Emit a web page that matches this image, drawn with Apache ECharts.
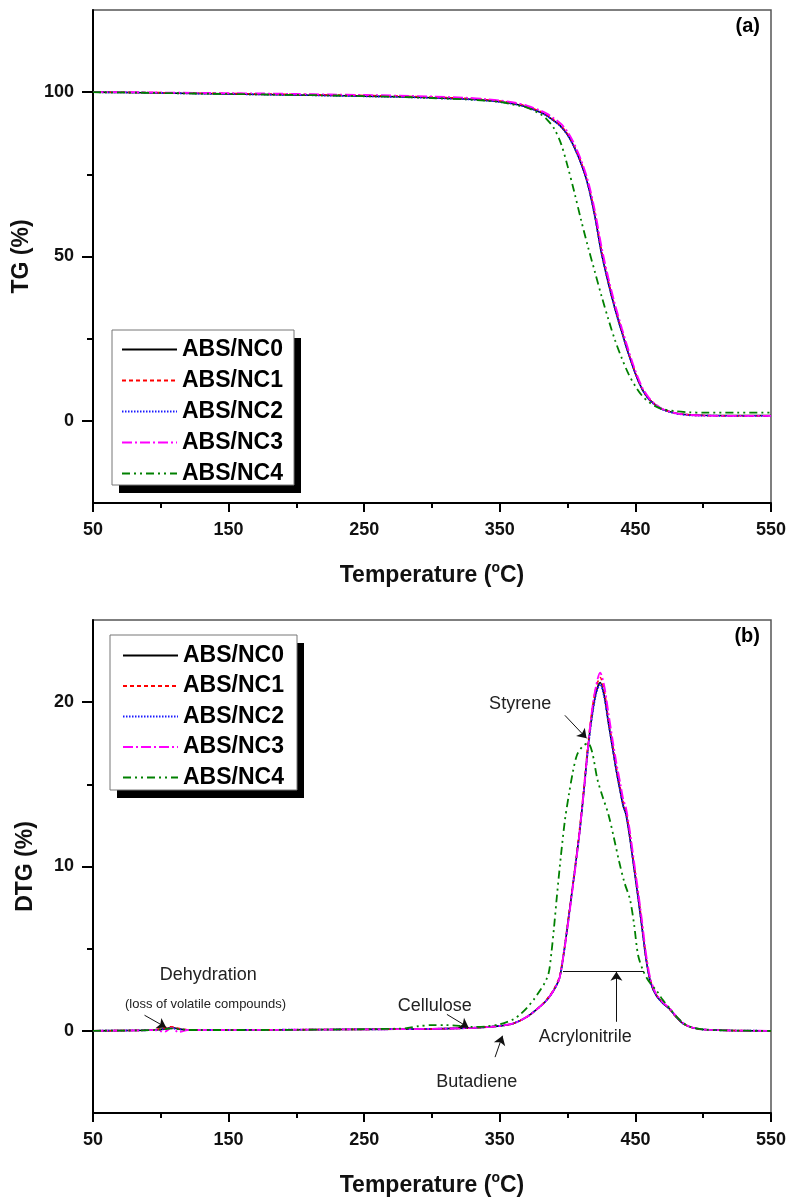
<!DOCTYPE html>
<html>
<head>
<meta charset="utf-8">
<script src="https://cdn.jsdelivr.net/npm/echarts@6/dist/echarts.min.js"></script>
<style>
  html, body { margin: 0; padding: 0; background: #ffffff; }
  #chart { width: 795px; height: 1197px; }
</style>
</head>
<body>
<div id="chart"></div>
<script>
// Sample names
const seriesNames = ['ABS/NC0', 'ABS/NC1', 'ABS/NC2', 'ABS/NC3', 'ABS/NC4'];

// Axis tick values
const xMajorTicks = [50, 150, 250, 350, 450, 550];
const xMinorTicks = [100, 200, 300, 400, 500];
const tgMajorTicks = [0, 50, 100];
const tgMinorTicks = [25, 75];
const dtgMajorTicks = [0, 10, 20];
const dtgMinorTicks = [5, 15];

// TG curves (% mass remaining) vs temperature (°C)
const tgTemps = [50, 75, 100, 125, 150, 175, 200, 225, 250, 275, 300, 325, 340, 350, 360, 370, 380, 385, 390, 395,
                 400, 405, 410, 415, 420, 425, 430, 435, 440, 445, 450, 455, 460, 465, 470, 480, 490, 500, 525, 550];
const tgNC0 = [100, 99.9, 99.75, 99.6, 99.45, 99.3, 99.15, 99.0, 98.8, 98.6, 98.3, 97.9, 97.5, 97.1, 96.5, 95.5, 93.9, 92.8, 91.3, 89.6,
               87.0, 83.2, 78.2, 71.8, 62.5, 51.0, 42.0, 34.0, 27.0, 20.3, 14.3, 9.6, 6.6, 4.8, 3.5, 2.3, 1.8, 1.7, 1.6, 1.6];
const tgNC1 = [100, 99.95, 99.85, 99.7, 99.6, 99.45, 99.3, 99.15, 99.0, 98.8, 98.5, 98.1, 97.7, 97.3, 96.7, 95.7, 94.1, 93.0, 91.5, 89.8,
               87.3, 83.5, 78.6, 72.3, 63.2, 51.8, 42.6, 34.5, 27.4, 20.6, 14.6, 9.8, 6.7, 4.8, 3.5, 2.3, 1.8, 1.6, 1.5, 1.5];
const tgNC2 = [100, 99.9, 99.75, 99.6, 99.45, 99.3, 99.15, 98.95, 98.75, 98.55, 98.25, 97.85, 97.45, 97.0, 96.4, 95.4, 93.8, 92.7, 91.2, 89.5,
               86.9, 83.1, 78.1, 71.7, 62.4, 51.0, 42.0, 34.0, 27.0, 20.3, 14.3, 9.6, 6.5, 4.7, 3.4, 2.2, 1.7, 1.6, 1.5, 1.5];
const tgNC3 = [100, 100.0, 99.9, 99.8, 99.7, 99.6, 99.45, 99.3, 99.15, 98.95, 98.7, 98.3, 97.9, 97.5, 96.9, 95.9, 94.4, 93.4, 92.0, 90.4,
               87.9, 84.2, 79.3, 73.1, 64.2, 53.0, 43.6, 35.4, 28.2, 21.4, 15.2, 10.2, 7.0, 5.0, 3.6, 2.3, 1.8, 1.6, 1.5, 1.5];
const tgNC4 = [100, 99.9, 99.75, 99.6, 99.45, 99.3, 99.15, 99.0, 98.8, 98.6, 98.2, 97.8, 97.4, 97.0, 96.2, 95.3, 93.3, 91.6, 89.0, 84.5,
               77.5, 69.5, 61.0, 53.0, 45.5, 38.0, 31.0, 24.5, 19.0, 14.2, 10.5, 7.6, 5.7, 4.4, 3.6, 2.9, 2.6, 2.5, 2.5, 2.5];

// DTG curves (%) vs temperature (°C)
const dtgTemps = [50, 75, 95, 103, 108, 113, 120, 150, 200, 250, 300, 330, 350, 360, 370, 380, 385, 390, 394, 397,
                  400, 403, 406, 409, 412, 415, 418, 421, 424, 427, 430, 433, 436, 439, 441, 443, 446, 449, 452, 455,
                  458, 461, 465, 470, 475, 480, 485, 490, 495, 500, 520, 550];
const dtgNC0 = [0.0, 0.02, 0.05, 0.12, 0.2, 0.12, 0.06, 0.05, 0.07, 0.09, 0.12, 0.18, 0.3, 0.45, 0.85, 1.5, 1.9, 2.5, 3.2, 4.6,
                6.4, 8.3, 10.2, 12.2, 14.6, 17.2, 19.2, 20.6, 21.2, 20.4, 18.8, 17.3, 15.8, 14.5, 13.7, 13.2, 11.7, 9.9, 8.1, 6.2,
                4.3, 3.0, 2.2, 1.7, 1.35, 0.85, 0.45, 0.25, 0.14, 0.08, 0.02, 0.0];
const dtgNC1 = [0.0, 0.02, 0.06, 0.18, 0.25, 0.15, 0.06, 0.05, 0.07, 0.09, 0.12, 0.18, 0.3, 0.45, 0.85, 1.5, 1.95, 2.55, 3.3, 4.7,
                6.5, 8.4, 10.3, 12.4, 14.8, 17.4, 19.5, 20.9, 21.5, 20.7, 19.0, 17.5, 16.0, 14.7, 13.9, 13.4, 11.9, 10.1, 8.3, 6.4,
                4.4, 3.1, 2.25, 1.75, 1.35, 0.85, 0.45, 0.25, 0.14, 0.08, 0.02, 0.0];
const dtgNC2 = [0.0, 0.02, 0.05, 0.1, 0.15, 0.1, 0.05, 0.05, 0.07, 0.09, 0.12, 0.18, 0.3, 0.45, 0.85, 1.5, 1.9, 2.5, 3.2, 4.6,
                6.4, 8.3, 10.2, 12.2, 14.6, 17.1, 19.1, 20.5, 21.1, 20.3, 18.8, 17.3, 15.8, 14.5, 13.7, 13.2, 11.7, 9.9, 8.1, 6.2,
                4.3, 3.0, 2.2, 1.7, 1.35, 0.85, 0.45, 0.25, 0.14, 0.08, 0.02, 0.0];
const dtgNC3 = [0.0, 0.02, 0.04, -0.05, 0.2, -0.08, 0.05, 0.05, 0.07, 0.09, 0.12, 0.18, 0.3, 0.45, 0.85, 1.5, 1.9, 2.5, 3.2, 4.6,
                6.3, 8.2, 10.1, 12.2, 14.6, 17.2, 19.5, 21.0, 21.8, 21.0, 19.4, 17.8, 16.3, 15.0, 14.1, 13.6, 12.1, 10.3, 8.5, 6.6,
                4.6, 3.2, 2.3, 1.75, 1.4, 0.9, 0.5, 0.25, 0.14, 0.08, 0.02, 0.0];

const dtgTempsNC4 = [50, 75, 95, 103, 108, 113, 120, 150, 200, 250, 280, 290, 300, 310, 320, 330, 340, 350, 360, 365,
                     370, 375, 380, 383, 386, 388, 390, 392, 395, 398, 401, 404, 407, 411, 415, 418, 422, 426, 430, 434,
                     438, 442, 446, 449, 452, 456, 460, 466, 470, 475, 480, 485, 490, 500, 520, 550];
const dtgNC4 = [0.0, 0.02, 0.05, 0.1, 0.15, 0.1, 0.05, 0.05, 0.06, 0.1, 0.15, 0.28, 0.35, 0.35, 0.3, 0.24, 0.27, 0.4, 0.7, 1.0,
                1.4, 1.9, 2.5, 2.9, 3.5, 4.7, 6.3, 8.1, 10.6, 12.8, 14.4, 15.8, 16.8, 17.3, 17.5, 17.0, 15.3, 14.2, 13.2, 11.8,
                10.3, 9.0, 8.0, 6.5, 4.6, 3.6, 3.0, 2.4, 1.9, 1.4, 0.9, 0.5, 0.25, 0.08, 0.02, 0.0];

const tgSets = [tgNC0, tgNC1, tgNC2, tgNC3, tgNC4];
const dtgSets = [[dtgTemps, dtgNC0], [dtgTemps, dtgNC1], [dtgTemps, dtgNC2], [dtgTemps, dtgNC3], [dtgTempsNC4, dtgNC4]];

// Decomposition-stage annotations on the DTG panel: [text, temperature, value, font size]
const stageLabels = [
  ['Dehydration', 135, 3.4, 18],
  ['(loss of volatile compounds)', 133, 1.6, 13],
  ['Cellulose', 302, 1.5, 18],
  ['Butadiene', 333, -3.1, 18],
  ['Acrylonitrile', 413, -0.35, 18],
  ['Styrene', 365, 19.9, 18]
];
// Arrows: [from T, from value, to T, to value]
const stageArrows = [
  [88, 0.95, 104, 0.2],
  [311, 1.0, 327, 0.2],
  [346.5, -1.6, 352, -0.3],
  [436, 0.55, 436, 3.6],
  [398, 19.2, 414, 17.8]
];
// Width bar across the main peak: [from T, to T, value]
const acrylBar = [396.6, 456.3, 3.6];

const FONT = 'Liberation Sans';
const lineStyles = [
  { color: '#000000', type: 'solid', width: 1.6 },
  { color: '#ff0000', type: [4, 3], width: 1.6 },
  { color: '#1a1aff', type: [1.5, 1.5], width: 1.8 },
  { color: '#ff00ff', type: [10, 3, 2, 3], width: 1.8 },
  { color: '#008000', type: [8, 4, 2, 4, 2, 4], width: 1.8 }
];

const chart = echarts.init(document.getElementById('chart'), null, { renderer: 'canvas' });

const gridTops = [10, 620];
const grids = gridTops.map(t => ({
  left: 93, right: 24, top: t, height: 493, outerBoundsMode: 'none',
  show: true, borderColor: '#555', borderWidth: 1.5, backgroundColor: 'transparent'
}));

const tempName = 'Temperature ({sup|o}C)';
const nameStyle = {
  fontFamily: FONT, fontWeight: 'bold', fontSize: 23, color: '#111', lineHeight: 30,
  rich: { sup: { fontFamily: FONT, fontWeight: 'bold', fontSize: 14, color: '#111', verticalAlign: 'top', lineHeight: 8 } }
};
const yNameStyle = { fontFamily: FONT, fontWeight: 'bold', fontSize: 23, color: '#111' };
const labelStyle = { fontFamily: FONT, fontWeight: 'bold', fontSize: 18, color: '#111' };

function mainX(gi) {
  return {
    gridIndex: gi, type: 'value', min: 50, max: 550, interval: 50, position: 'bottom',
    axisLine: { show: true, onZero: false, lineStyle: { color: '#000', width: 2 } },
    axisTick: { show: true, inside: false, length: 9, lineStyle: { color: '#000', width: 2 }, customValues: xMajorTicks },
    axisLabel: Object.assign({ show: true, margin: 18, customValues: xMajorTicks }, labelStyle),
    splitLine: { show: false },
    name: tempName, nameLocation: 'middle', nameGap: 58, nameTextStyle: nameStyle
  };
}
function minorX(gi) {
  return {
    gridIndex: gi, type: 'value', min: 50, max: 550, interval: 50, position: 'bottom',
    axisLine: { show: false, onZero: false },
    axisTick: { show: true, inside: false, length: 5, lineStyle: { color: '#000', width: 2 }, customValues: xMinorTicks },
    axisLabel: { show: false }, splitLine: { show: false }
  };
}
function mainY(gi, min, max, interval, ticks, name) {
  return {
    gridIndex: gi, type: 'value', min: min, max: max, interval: interval, position: 'left',
    axisLine: { show: true, onZero: false, lineStyle: { color: '#000', width: 2 } },
    axisTick: { show: true, inside: false, length: 11, lineStyle: { color: '#000', width: 2 }, customValues: ticks },
    axisLabel: Object.assign({ show: true, margin: 19, customValues: ticks }, labelStyle),
    splitLine: { show: false },
    name: name, nameLocation: 'middle', nameGap: 56, nameTextStyle: yNameStyle
  };
}
function minorY(gi, min, max, interval, ticks) {
  return {
    gridIndex: gi, type: 'value', min: min, max: max, interval: interval, position: 'left',
    axisLine: { show: false, onZero: false },
    axisTick: { show: true, inside: false, length: 6, lineStyle: { color: '#000', width: 2 }, customValues: ticks },
    axisLabel: { show: false }, splitLine: { show: false }
  };
}

// Legend items; the framed box with its drop shadow is drawn as graphics below
function legendAt(left, top, gap) {
  return {
    data: seriesNames, orient: 'vertical', left: left, top: top,
    itemWidth: 55, itemHeight: 14, itemGap: gap, padding: 0,
    backgroundColor: 'transparent', borderWidth: 0,
    selectedMode: false, z: 20,
    itemStyle: { opacity: 0, borderWidth: 0 },
    textStyle: { fontFamily: FONT, fontWeight: 'bold', fontSize: 23, color: '#000' }
  };
}
function legendFrame(x, y, w, h) {
  return [
    { type: 'rect', z: 14, silent: true, shape: { x: x + 7, y: y + 8, width: w, height: h }, style: { fill: '#000' } },
    { type: 'rect', z: 15, silent: true, shape: { x: x, y: y, width: w, height: h }, style: { fill: '#fff', stroke: '#777', lineWidth: 1 } }
  ];
}

const series = [];
tgSets.forEach((vals, i) => {
  series.push({
    name: seriesNames[i], type: 'line', xAxisIndex: 0, yAxisIndex: 0,
    data: tgTemps.map((t, k) => [t, vals[k]]),
    showSymbol: false, symbol: 'none', smooth: 0.3, lineStyle: lineStyles[i], color: lineStyles[i].color,
    animation: false
  });
});
dtgSets.forEach(([temps, vals], i) => {
  series.push({
    name: seriesNames[i], type: 'line', xAxisIndex: 2, yAxisIndex: 2,
    data: temps.map((t, k) => [t, vals[k]]),
    showSymbol: false, symbol: 'none', smooth: 0.3, lineStyle: lineStyles[i], color: lineStyles[i].color,
    animation: false
  });
});

// Annotation layer for the DTG panel
const arrowData = stageArrows.map(a => [{ coord: [a[0], a[1]] }, { coord: [a[2], a[3]] }]);
arrowData.push([
  { coord: [acrylBar[0], acrylBar[2]], symbol: 'none' },
  { coord: [acrylBar[1], acrylBar[2]], symbol: 'none' }
]);
series.push({
  name: 'stages', type: 'line', xAxisIndex: 2, yAxisIndex: 2, data: [], animation: false, silent: true, z: 10,
  markLine: {
    silent: true, animation: false, symbol: ['none', 'arrow'], symbolSize: 9,
    lineStyle: { color: '#111', width: 1, type: 'solid' },
    label: { show: false },
    emphasis: { disabled: true },
    data: arrowData
  },
  markPoint: {
    silent: true, animation: false, symbol: 'circle', symbolSize: 0,
    label: { show: true, position: 'inside', formatter: '{b}', color: '#222', fontFamily: FONT },
    data: stageLabels.map(s => ({ name: s[0], coord: [s[1], s[2]], label: { fontSize: s[3] } }))
  }
});

chart.setOption({
  animation: false,
  backgroundColor: '#ffffff',
  grid: grids,
  xAxis: [mainX(0), minorX(0), mainX(1), minorX(1)],
  yAxis: [
    mainY(0, -25, 125, 25, tgMajorTicks, 'TG (%)'), minorY(0, -25, 125, 25, tgMinorTicks),
    mainY(1, -5, 25, 5, dtgMajorTicks, 'DTG (%)'), minorY(1, -5, 25, 5, dtgMinorTicks)
  ],
  legend: [legendAt(121, 338, 8), legendAt(122, 644, 7.5)],
  graphic: [].concat(
    legendFrame(112, 330, 182, 155),
    legendFrame(110, 635, 187, 155),
    [
      { type: 'text', right: 35, top: 16, style: { text: '(a)', font: 'bold 20px "Liberation Sans"', fill: '#000' } },
      { type: 'text', right: 35, top: 626, style: { text: '(b)', font: 'bold 20px "Liberation Sans"', fill: '#000' } }
    ]
  ),
  series: series
});
</script>
</body>
</html>
